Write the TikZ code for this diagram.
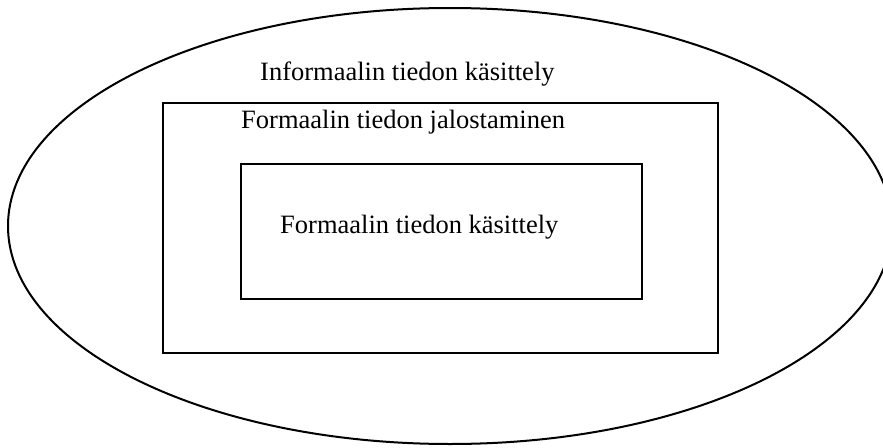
\documentclass[tikz,border=0pt]{standalone}
\usepackage{fontspec}
\setmainfont{Liberation Serif}
\usetikzlibrary{shapes.geometric}
\begin{document}
\begin{tikzpicture}[x=1pt,y=-1pt,
  frame/.style={draw=black,line width=2pt},
  label/.style={anchor=base west,inner sep=0pt,font=\fontsize{26.5}{30}\selectfont}]
  \useasboundingbox (0,0) rectangle (883,447);
  \clip (0,0) rectangle (883,447);
  % outer ellipse
  \draw[frame] (450,226) ellipse [x radius=442, y radius=218];
  % nested rectangles
  \draw[frame] (163,103) rectangle (718,353);
  \draw[frame] (241,164) rectangle (642,299);
  % labels
  \node[label] (informal) at (260,80) {Informaalin tiedon käsittely};
  \node[label] (refine) at (241,128) {Formaalin tiedon jalostaminen};
  \node[label] (formal) at (280,233) {Formaalin tiedon käsittely};
\end{tikzpicture}
\end{document}
